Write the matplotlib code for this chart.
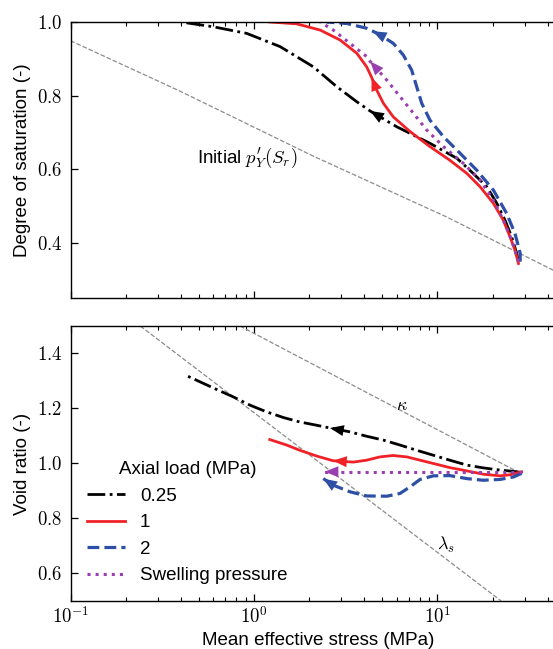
import numpy as np
import matplotlib
matplotlib.use("Agg")
import matplotlib.pyplot as plt
from matplotlib.ticker import FuncFormatter, NullFormatter, LogLocator, MultipleLocator

plt.rcParams["font.family"] = ["Liberation Sans", "DejaVu Sans"]
plt.rcParams["mathtext.fontset"] = "cm"
plt.rcParams["font.size"] = 13.5

# ---- top panel: degree of saturation vs mean effective stress (MPa)
p_top_025 = [27.7, 27.1, 25.4, 23.4, 21.1, 18.6, 15.7, 12.8, 9.12, 6.01, 4.30, 3.64, 2.83, 2.11,
             1.39, 0.914, 0.601, 0.40]
s_top_025 = [0.348, 0.371, 0.416, 0.461, 0.507, 0.552, 0.588, 0.629, 0.670, 0.715, 0.758, 0.783,
             0.824, 0.878, 0.933, 0.969, 0.987, 1.0]
p_top_1 = [27.7, 26.5, 24.9, 22.9, 20.2, 17.1, 14.5, 11.7, 9.12, 7.10, 5.75, 5.08, 4.67, 4.38,
           4.12, 3.64, 2.95, 2.30, 1.71, 1.22]
s_top_1 = [0.343, 0.380, 0.416, 0.461, 0.507, 0.552, 0.588, 0.624, 0.661, 0.702, 0.742, 0.779,
           0.815, 0.850, 0.878, 0.915, 0.951, 0.978, 0.995, 1.0]
p_top_2 = [28.3, 28.3, 26.5, 23.9, 20.2, 16.4, 13.3, 10.8, 9.12, 8.22, 7.72, 7.25, 6.53, 5.75,
           4.87, 4.45, 4.12, 3.21, 2.49]
s_top_2 = [0.348, 0.371, 0.425, 0.479, 0.543, 0.597, 0.643, 0.688, 0.733, 0.779, 0.824, 0.869,
           0.910, 0.942, 0.965, 0.975, 0.983, 0.996, 1.0]
p_top_sw = [27.7, 25.4, 22.9, 20.2, 17.1, 13.9, 10.8, 8.76, 7.40, 6.26, 5.30, 4.30, 4.12, 3.34,
            2.71, 2.30]
s_top_sw = [0.348, 0.407, 0.461, 0.516, 0.570, 0.615, 0.661, 0.706, 0.752, 0.797, 0.842, 0.893,
            0.906, 0.942, 0.978, 1.0]
p_init = [0.1, 0.395, 2.11, 11.2, 42.8]
s_init = [0.949, 0.812, 0.635, 0.470, 0.325]

# ---- bottom panel: void ratio
p_bot_025 = [28.8, 27.1, 22.0, 17.8, 14.5, 11.7, 9.51, 7.72, 6.26, 5.08, 4.12, 3.34, 2.60, 2.20,
             1.78, 1.45, 1.17, 0.953, 0.773, 0.627, 0.508, 0.431]
e_bot_025 = [0.967, 0.970, 0.976, 0.984, 0.994, 1.012, 1.030, 1.048, 1.067, 1.085, 1.099, 1.115,
             1.129, 1.139, 1.151, 1.167, 1.188, 1.212, 1.242, 1.269, 1.297, 1.319]
p_bot_1 = [28.8, 24.9, 22.0, 17.8, 14.5, 11.7, 9.51, 8.05, 6.81, 5.75, 4.87, 4.12, 3.48, 2.70,
           2.20, 1.78, 1.51, 1.22]
e_bot_1 = [0.970, 0.959, 0.955, 0.961, 0.973, 0.985, 1.0, 1.012, 1.024, 1.029, 1.024, 1.012,
           1.005, 1.010, 1.027, 1.048, 1.067, 1.087]
p_bot_2 = [28.8, 26.0, 22.0, 17.8, 14.5, 11.7, 9.51, 8.05, 7.10, 6.26, 5.30, 4.12, 3.34, 2.71,
           2.39]
e_bot_2 = [0.964, 0.951, 0.942, 0.939, 0.945, 0.956, 0.955, 0.942, 0.915, 0.891, 0.881, 0.882,
           0.897, 0.921, 0.945]
p_bot_sw = [28.8, 20.0, 10.0, 5.0, 2.43, 2.30]
e_bot_sw = [0.970, 0.970, 0.970, 0.970, 0.970, 0.970]
p_kappa = [0.84, 27.0]
e_kappa = [1.50, 0.972]
p_lams = [0.24, 22.3]
e_lams = [1.50, 0.50]

# arrow tip index in each series
arr_top = {"025": 10, "1": 13, "2": 15, "sw": 11}
arr_bot = {"025": 12, "1": 13, "2": 14, "sw": 4}

labels = ["0.25", "1", "2", "Swelling pressure"]
colors = {"025": "black", "1": "#f02228", "2": "#2d4fa6", "sw": "#9a3fb0"}
styles = {"025": dict(ls="-.", lw=2.0), "1": dict(ls="-", lw=2.0),
          "2": dict(ls="--", lw=2.3), "sw": dict(ls=":", lw=2.2)}

fig = plt.figure(figsize=(5.53, 6.49), dpi=100)
ax1 = fig.add_axes([0.1275, 0.5413, 0.8951, 0.4248])
ax2 = fig.add_axes([0.1275, 0.0740, 0.8951, 0.4237], sharex=ax1)


def arrow(ax, x, y, i, c):
    ax.annotate("", xy=(x[i], y[i]), xytext=(x[i - 1], y[i - 1]),
                arrowprops=dict(arrowstyle="-|>,head_length=0.55,head_width=0.22",
                                color=c, lw=0, mutation_scale=18,
                                shrinkA=0, shrinkB=0))


ax1.plot(p_init, s_init, ls="--", lw=0.9, color="0.55")
top = {"025": (p_top_025, s_top_025), "1": (p_top_1, s_top_1),
       "2": (p_top_2, s_top_2), "sw": (p_top_sw, s_top_sw)}
for k, (x, y) in top.items():
    ax1.plot(x, y, color=colors[k], solid_joinstyle="round", **styles[k])
    arrow(ax1, x, y, arr_top[k], colors[k])
ax1.text(0.487, 0.629, r"Initial $p_Y^{\prime}(S_r)$", va="center", ha="left", fontsize=13.5)

ax2.plot(p_kappa, e_kappa, ls="--", lw=0.9, color="0.55")
ax2.plot(p_lams, e_lams, ls="--", lw=0.9, color="0.55")
bot = {"025": (p_bot_025, e_bot_025), "1": (p_bot_1, e_bot_1),
       "2": (p_bot_2, e_bot_2), "sw": (p_bot_sw, e_bot_sw)}
handles = []
for k, (x, y) in bot.items():
    h, = ax2.plot(x, y, color=colors[k], solid_joinstyle="round", **styles[k])
    handles.append(h)
    arrow(ax2, x, y, arr_bot[k], colors[k])
ax2.text(6.43, 1.212, r"$\kappa$", ha="center", va="center", fontsize=13)
ax2.text(11.2, 0.703, r"$\lambda_s$", ha="center", va="center", fontsize=13)

ax2.legend(handles, labels, title="Axial load (MPa)", loc="lower left",
           frameon=False, fontsize=13.5, title_fontsize=13.5)

ax1.set_xscale("log")
ax1.set_xlim(0.1, 50)
ax1.set_ylim(0.25, 1.0)
ax2.set_ylim(0.5, 1.5)
ax1.yaxis.set_major_locator(MultipleLocator(0.2))
ax2.yaxis.set_major_locator(MultipleLocator(0.2))

ymath = FuncFormatter(lambda v, pos: f"${v:.1f}$")
xmath = FuncFormatter(lambda v, pos: f"$10^{{{int(round(np.log10(v)))}}}$")
for ax in (ax1, ax2):
    ax.yaxis.set_major_formatter(ymath)
    ax.tick_params(which="both", direction="in", top=True, right=True, labelsize=13.5)
    ax.tick_params(which="major", length=5, width=0.9)
    ax.tick_params(which="minor", length=2.7, width=0.8)
    ax.tick_params(axis="y", pad=6)
    for sp in ax.spines.values():
        sp.set_linewidth(1.0)
ax2.xaxis.set_major_locator(LogLocator(base=10))
ax2.xaxis.set_major_formatter(xmath)
ax2.xaxis.set_minor_formatter(NullFormatter())
ax1.tick_params(axis="x", labelbottom=False)

ax1.set_ylabel("Degree of saturation (-)")
ax2.set_ylabel("Void ratio (-)")
ax2.set_xlabel("Mean effective stress (MPa)")

fig.savefig("out.png", dpi=100)
